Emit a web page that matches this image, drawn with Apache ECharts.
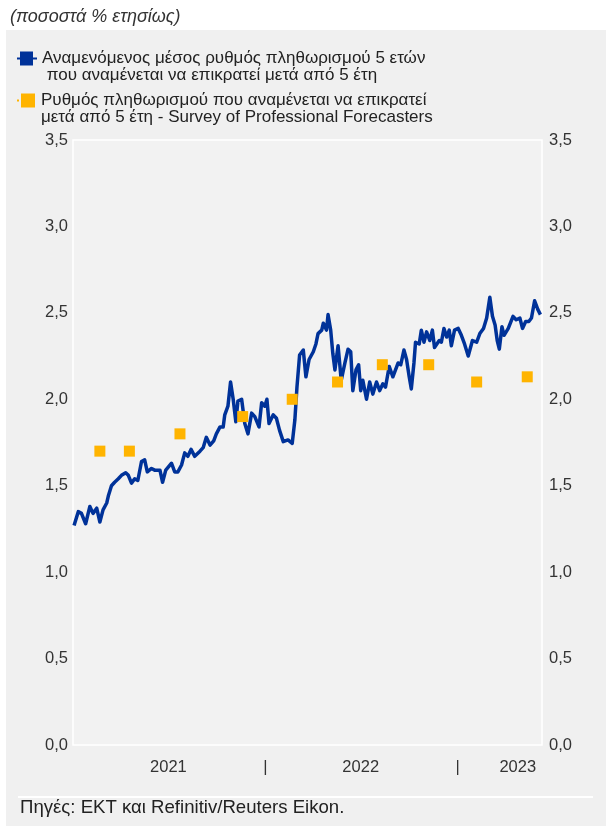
<!DOCTYPE html>
<html>
<head>
<meta charset="utf-8">
<title>Αναμενόμενος πληθωρισμός</title>
<script src="https://cdn.jsdelivr.net/npm/echarts@6/dist/echarts.min.js"></script>
<style>
  html, body { margin: 0; padding: 0; background: #ffffff; }
  #chart { width: 606px; height: 826px; }
</style>
</head>
<body>
<div id="chart"></div>
<script>
// 5y5y forward inflation expectation (daily market measure, sampled)
const lineDates = [
  '2021-01-03','2021-01-11','2021-01-17','2021-01-25','2021-02-02','2021-02-08','2021-02-15','2021-02-21',
  '2021-02-27','2021-03-06','2021-03-09','2021-03-15','2021-03-21','2021-03-28','2021-04-03','2021-04-11',
  '2021-04-16','2021-04-22','2021-04-28','2021-05-04','2021-05-11','2021-05-17','2021-05-22','2021-05-30',
  '2021-06-05','2021-06-15','2021-06-20','2021-06-26','2021-07-07','2021-07-13','2021-07-19','2021-07-26',
  '2021-08-01','2021-08-07','2021-08-13','2021-08-20','2021-08-30','2021-09-05','2021-09-11','2021-09-18',
  '2021-09-25','2021-09-30','2021-10-07','2021-10-13','2021-10-16','2021-10-22','2021-10-27','2021-11-01',
  '2021-11-06','2021-11-10','2021-11-17','2021-11-23','2021-11-29','2021-12-06','2021-12-12','2021-12-20',
  '2021-12-25','2021-12-31','2022-01-04','2022-01-08','2022-01-16','2022-01-22','2022-01-28','2022-02-04',
  '2022-02-13','2022-02-21','2022-02-26','2022-03-02','2022-03-07','2022-03-14','2022-03-19','2022-03-25',
  '2022-04-02','2022-04-07','2022-04-11','2022-04-18','2022-04-21','2022-04-27','2022-04-30','2022-05-05',
  '2022-05-09','2022-05-13','2022-05-19','2022-05-25','2022-06-01','2022-06-07','2022-06-12','2022-06-16',
  '2022-06-22','2022-06-27','2022-07-01','2022-07-05','2022-07-12','2022-07-18','2022-07-24','2022-07-31',
  '2022-08-06','2022-08-12','2022-08-17','2022-08-24','2022-08-31','2022-09-05','2022-09-10','2022-09-15',
  '2022-09-21','2022-09-26','2022-10-01','2022-10-05','2022-10-10','2022-10-13','2022-10-20','2022-10-24',
  '2022-10-29','2022-11-03','2022-11-09','2022-11-14','2022-11-18','2022-11-27','2022-12-01','2022-12-06',
  '2022-12-11','2022-12-16','2022-12-20','2022-12-26','2023-01-02','2023-01-08','2023-01-14','2023-01-21',
  '2023-01-29','2023-02-06','2023-02-12','2023-02-19','2023-02-25','2023-03-03','2023-03-08','2023-03-13',
  '2023-03-17','2023-03-21','2023-03-26','2023-03-30','2023-04-07','2023-04-16','2023-04-22','2023-04-29',
  '2023-05-04','2023-05-10','2023-05-16','2023-05-21','2023-05-27','2023-06-02','2023-06-07'
];
const lineValues = [
  1.27, 1.35, 1.34, 1.28, 1.38, 1.34, 1.37, 1.29,
  1.36, 1.40, 1.44, 1.50, 1.52, 1.54, 1.56, 1.575,
  1.56, 1.515, 1.54, 1.53, 1.64, 1.65, 1.58, 1.60,
  1.59, 1.59, 1.52, 1.59, 1.63, 1.58, 1.58, 1.62,
  1.69, 1.67, 1.71, 1.67, 1.70, 1.72, 1.78, 1.735,
  1.76, 1.80, 1.84, 1.84, 1.91, 1.96, 2.10, 2.00,
  1.87, 1.99, 2.00, 1.86, 1.80, 1.92, 1.90, 1.84,
  1.98, 1.96, 2.00, 1.86, 1.91, 1.89, 1.82, 1.755,
  1.765, 1.745, 1.88, 2.07, 2.256, 2.285, 2.13, 2.23,
  2.275, 2.32, 2.38, 2.40, 2.44, 2.40, 2.49, 2.40,
  2.266, 2.17, 2.31, 2.11, 2.21, 2.29, 2.275, 2.05,
  2.17, 2.20, 2.05, 2.11, 2.00, 2.10, 2.03, 2.10,
  2.05, 2.09, 2.07, 2.19, 2.13, 2.17, 2.21, 2.20,
  2.285, 2.23, 2.13, 2.06, 2.21, 2.33, 2.32, 2.40,
  2.33, 2.39, 2.34, 2.40, 2.30, 2.34, 2.33, 2.41,
  2.36, 2.40, 2.31, 2.40, 2.41, 2.37, 2.32, 2.25,
  2.34, 2.33, 2.38, 2.41, 2.47, 2.59, 2.48, 2.43,
  2.34, 2.29, 2.42, 2.37, 2.41, 2.48, 2.46, 2.47,
  2.41, 2.45, 2.45, 2.47, 2.57, 2.52, 2.49
];

// Survey of Professional Forecasters, longer-term expectations
const spfDates = ['2021-02-21','2021-04-18','2021-07-23','2021-11-19','2022-02-21',
                  '2022-05-18','2022-08-11','2022-11-07','2023-02-06','2023-05-13'];
const spfValues = [1.70, 1.70, 1.80, 1.90, 2.00, 2.10, 2.20, 2.20, 2.10, 2.13];

// x-axis labels: year names and year separators
const xTickDates = ['2021-07-01', '2022-01-01', '2022-07-01', '2023-01-01', '2023-04-25'];
const xTickLabels = ['2021', '|', '2022', '|', '2023'];

const xStart = '2021-01-01';
const xEnd = '2023-06-10';

const lineName = 'Αναμενόμενος μέσος ρυθμός πληθωρισμού 5 ετών\n που αναμένεται να επικρατεί μετά από 5 έτη';
const spfName = 'Ρυθμός πληθωρισμού που αναμένεται να επικρατεί\nμετά από 5 έτη - Survey of Professional Forecasters';

const DAY = 86400000;
const dayOf = d => (Date.parse(d) - Date.parse(xStart)) / DAY;

const FONT = "'Liberation Sans', Arial, Helvetica, sans-serif";
const BLUE = '#003299';
const GOLD = '#FFB400';

const tickDays = xTickDates.map(dayOf);
const tickText = {};
tickDays.forEach((d, i) => { tickText[d] = xTickLabels[i]; });

const fmtY = v => v.toFixed(1).replace('.', ',');

const yAxisBase = {
  type: 'value',
  min: 0,
  max: 3.5,
  interval: 0.5,
  axisLine: { show: false },
  axisTick: { show: false },
  splitLine: { show: false },
  axisLabel: { color: '#333', fontSize: 16.5, fontFamily: FONT, formatter: fmtY }
};

// legend text: an empty leading line keeps the icon level with the first text line
const legendText = {
  fontSize: 17,
  lineHeight: 17,
  color: '#222',
  fontFamily: FONT
};
const legendFormatter = name => '\n' + name;

const chart = echarts.init(document.getElementById('chart'), null, { renderer: 'canvas' });

chart.setOption({
  animation: false,
  backgroundColor: '#ffffff',
  textStyle: { fontFamily: FONT },
  graphic: [
    { type: 'rect', z: -100, shape: { x: 6, y: 30, width: 600, height: 796 }, style: { fill: '#f0f0f0' } },
    { type: 'text', left: 10, top: 8, style: { text: '(ποσοστά % ετησίως)', font: 'italic 18px ' + FONT, fill: '#333' } },
    { type: 'line', shape: { x1: 18, y1: 797, x2: 593, y2: 797 }, style: { stroke: '#ffffff', lineWidth: 2 } },
    { type: 'text', left: 20, top: 798, style: { text: 'Πηγές: ΕΚΤ και Refinitiv/Reuters Eikon.', font: '18.6px ' + FONT, fill: '#222' } }
  ],
  legend: [
    {
      left: 12, top: 28, itemWidth: 20, itemHeight: 14, itemGap: 0,
      selectedMode: false,
      formatter: legendFormatter,
      data: [{ name: lineName, icon: 'path://M0,6H3V0H16V6H20V8H16V14H3V8H0Z' }],
      textStyle: legendText
    },
    {
      left: 12, top: 70, itemWidth: 20, itemHeight: 14, itemGap: 0,
      selectedMode: false,
      formatter: legendFormatter,
      data: [{ name: spfName, icon: 'path://M2,6H4V8H2Z M6,0H20V14H6Z' }],
      textStyle: legendText
    }
  ],
  grid: {
    left: 73, right: 64, top: 140, bottom: 81,
    show: true,
    backgroundColor: '#f2f2f2',
    borderColor: '#ffffff',
    borderWidth: 1.5
  },
  xAxis: {
    type: 'value',
    min: 0,
    max: dayOf(xEnd),
    axisLine: { show: false },
    axisTick: { show: false },
    splitLine: { show: false },
    axisLabel: {
      customValues: tickDays,
      color: '#333', fontSize: 16.5, fontFamily: FONT, margin: 14,
      formatter: v => tickText[v] !== undefined ? tickText[v] : ''
    }
  },
  yAxis: [
    Object.assign({}, yAxisBase, { position: 'left', axisLabel: Object.assign({}, yAxisBase.axisLabel, { margin: 5 }) }),
    Object.assign({}, yAxisBase, { position: 'right', axisLabel: Object.assign({}, yAxisBase.axisLabel, { margin: 7 }) })
  ],
  series: [
    {
      name: lineName,
      type: 'line',
      data: lineDates.map((d, i) => [dayOf(d), lineValues[i]]),
      showSymbol: false,
      symbol: 'none',
      color: BLUE,
      lineStyle: { color: BLUE, width: 3.5, join: 'round' },
      z: 2
    },
    {
      name: spfName,
      type: 'scatter',
      data: spfDates.map((d, i) => [dayOf(d), spfValues[i]]),
      symbol: 'rect',
      symbolSize: 11,
      color: GOLD,
      itemStyle: { color: GOLD, opacity: 1 },
      z: 3
    }
  ]
});
</script>
</body>
</html>
